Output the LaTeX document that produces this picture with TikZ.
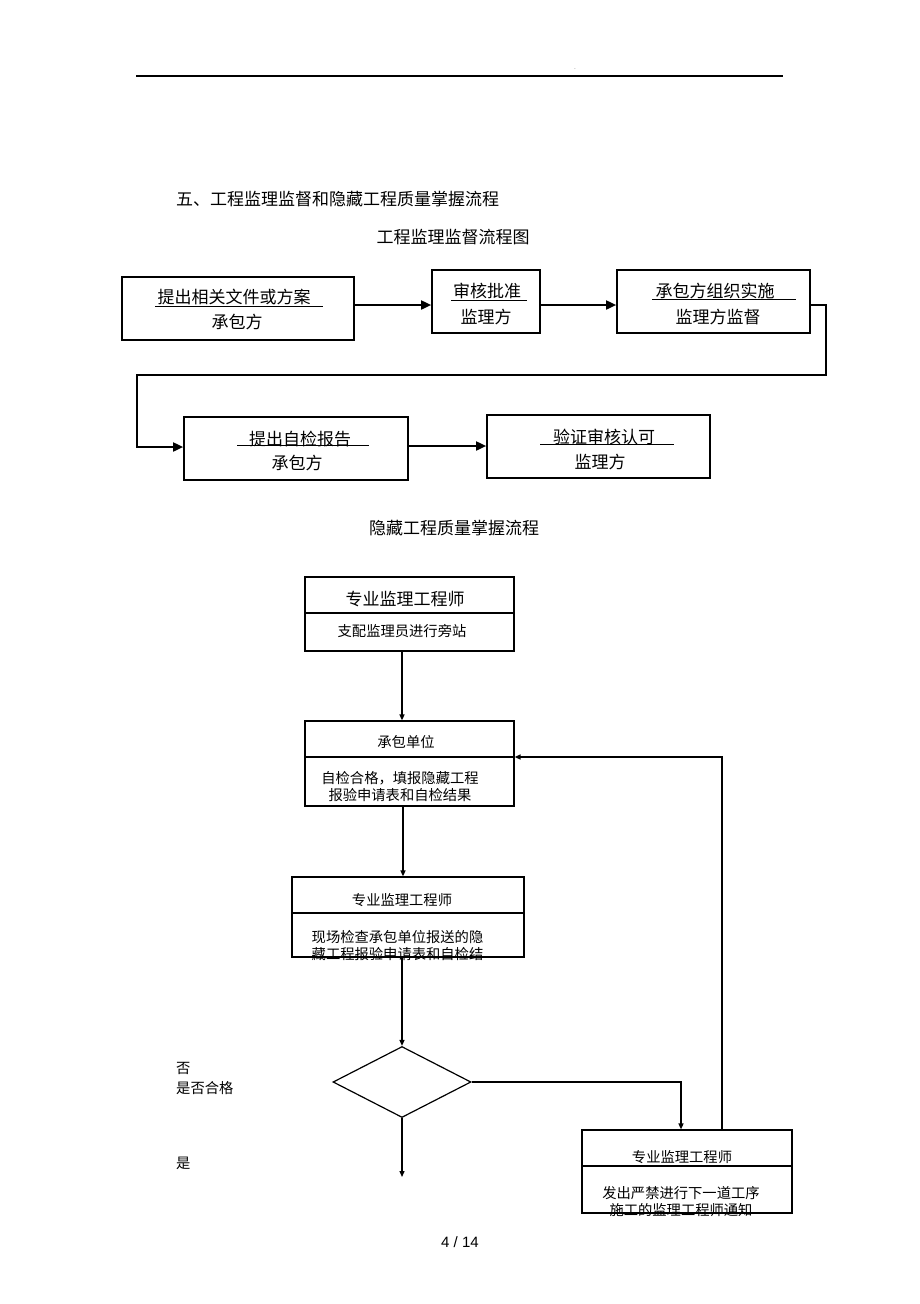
\documentclass[tikz,border=0pt]{standalone}
\usepackage{fontspec}
\setmainfont{Noto Sans CJK SC}
\newfontfamily\pagefont{Liberation Sans}
\usetikzlibrary{shapes.geometric,arrows.meta}

\begin{document}
\begin{tikzpicture}[x=1pt, y=-1pt]
	\tikzstyle{bigtxt}=[inner sep=0pt, font=\fontsize{17}{20}\selectfont]
	\tikzstyle{smalltxt}=[inner sep=0pt, font=\fontsize{14.3}{17}\selectfont]
	\tikzstyle{boxa}=[draw, line width=1.7pt, inner sep=0pt]
	\tikzstyle{boxb}=[draw, line width=1.2pt, inner sep=0pt]
	\tikzstyle{flowa}=[line width=1.8pt, -{Triangle[length=10pt,width=9pt]}]
	\tikzstyle{flowb}=[line width=1.3pt, -{Triangle[length=6pt,width=5pt]}]
	\tikzstyle{uline}=[line width=1pt]
	\tikzstyle{split}=[line width=1.2pt]
	
	\useasboundingbox (0,0) rectangle (920,1304);
	
	% Kopfzeile
	\draw[line width=1.3pt] (136,76) -- (783,76);
	\node[inner sep=0pt, font=\tiny] (dot) at (575,69) {.};
	
	% Ueberschriften
	\node[bigtxt, anchor=west] (title) at (176,199) {五、工程监理监督和隐藏工程质量掌握流程};
	\node[bigtxt] (sub1) at (453,237) {工程监理监督流程图};
	
	% Erster Ablauf, obere Reihe
	\node[boxa, minimum width=232pt, minimum height=63pt] (req) at (238,308.5) {};
	\node[bigtxt] (req1) at (234,297) {提出相关文件或方案};
	\node[bigtxt] (req2) at (237,322) {承包方};
	\draw[uline] (155,306) -- (323,306);
	
	\node[boxa, minimum width=108pt, minimum height=63pt] (appr) at (486,301.5) {};
	\node[bigtxt] (appr1) at (487,291) {审核批准};
	\node[bigtxt] (appr2) at (486,317) {监理方};
	\draw[uline] (451,300) -- (527,300);
	
	\node[boxa, minimum width=193pt, minimum height=63pt] (impl) at (713.5,301.5) {};
	\node[bigtxt] (impl1) at (715,291) {承包方组织实施};
	\node[bigtxt] (impl2) at (718,317) {监理方监督};
	\draw[uline] (652,299) -- (796,299);
	
	% Erster Ablauf, untere Reihe
	\node[boxa, minimum width=224pt, minimum height=63pt] (self) at (296,448.5) {};
	\node[bigtxt] (self1) at (300,439) {提出自检报告};
	\node[bigtxt] (self2) at (297,463) {承包方};
	\draw[uline] (237,445) -- (369,445);
	
	\node[boxa, minimum width=223pt, minimum height=63pt] (verify) at (598.5,446.5) {};
	\node[bigtxt] (verify1) at (604,437) {验证审核认可};
	\node[bigtxt] (verify2) at (600,462) {监理方};
	\draw[uline] (540,444) -- (674,444);
	
	% Pfeile erster Ablauf
	\draw[flowa] ([yshift=3.5pt]req.east) -- ([yshift=-3.5pt]appr.west);
	\draw[flowa] ([yshift=-3.5pt]appr.east) -- ([yshift=-3.5pt]impl.west);
	\draw[flowa] ([yshift=-3.5pt]impl.east) -- (826,305) -- (826,375) -- (137,375) -- (137,447) -- ([yshift=1.5pt]self.west);
	\draw[flowa] ([yshift=2.5pt]self.east) -- ([yshift=2.5pt]self.east -| verify.west);
	
	\node[bigtxt] (sub2) at (454,528) {隐藏工程质量掌握流程};
	
	% Zweiter Ablauf
	\node[boxb, minimum width=209pt, minimum height=74pt] (eng1) at (409.5,614) {};
	\draw[split] (eng1.west |- 0,613) -- (eng1.east |- 0,613);
	\node[bigtxt] (eng1a) at (405,599) {专业监理工程师};
	\node[smalltxt] (eng1b) at (402,631) {支配监理员进行旁站};
	
	\node[boxb, minimum width=209pt, minimum height=85pt] (contr) at (409.5,763.5) {};
	\draw[split] (contr.west |- 0,757) -- (contr.east |- 0,757);
	\node[smalltxt] (contra) at (406,742) {承包单位};
	\node[smalltxt, align=center] (contrb) at (400,786.5) {自检合格，填报隐藏工程\\报验申请表和自检结果};
	
	\node[boxb, minimum width=232pt, minimum height=80pt] (eng2) at (408,917) {};
	\draw[split] (eng2.west |- 0,913) -- (eng2.east |- 0,913);
	\node[smalltxt] (eng2a) at (402,900) {专业监理工程师};
	\node[smalltxt, align=left] (eng2b) at (397.5,945.5) {现场检查承包单位报送的隐\\藏工程报验申请表和自检结};
	
	\node[boxb, diamond, minimum width=138pt, minimum height=71pt] (check) at (402,1082) {};
	
	\node[boxb, minimum width=210pt, minimum height=83pt] (eng3) at (687,1171.5) {};
	\draw[split] (eng3.west |- 0,1166) -- (eng3.east |- 0,1166);
	\node[smalltxt] (eng3a) at (682,1157) {专业监理工程师};
	\node[smalltxt, align=center] (eng3b) at (681,1201.5) {发出严禁进行下一道工序\\施工的监理工程师通知};
	
	% Beschriftungen links
	\node[smalltxt, anchor=west] (no) at (176,1068) {否};
	\node[smalltxt, anchor=west] (ok) at (176,1088) {是否合格};
	\node[smalltxt, anchor=west] (yes) at (176,1163) {是};
	
	% Pfeile zweiter Ablauf
	\coordinate (yesend) at (402,1177);
	\draw[flowb] ([xshift=-7.5pt]eng1.south) -- ([xshift=-7.5pt]contr.north);
	\draw[flowb] ([xshift=-6.5pt]contr.south) -- ([xshift=-5pt]eng2.north);
	\draw[flowb] ([xshift=-6pt]eng2.south) -- (check.north);
	\draw[flowb] (check.east) -| ([xshift=-6pt]eng3.north);
	\draw[flowb] (check.south) -- (yesend);
	\draw[flowb] ([xshift=35pt]eng3.north) |- ([yshift=6.5pt]contr.east);
	
	% Seitenzahl
	\node[inner sep=0pt, font=\pagefont\fontsize{15}{17}\selectfont] (page) at (460,1242) {4 / 14};
	
\end{tikzpicture}
\end{document}
